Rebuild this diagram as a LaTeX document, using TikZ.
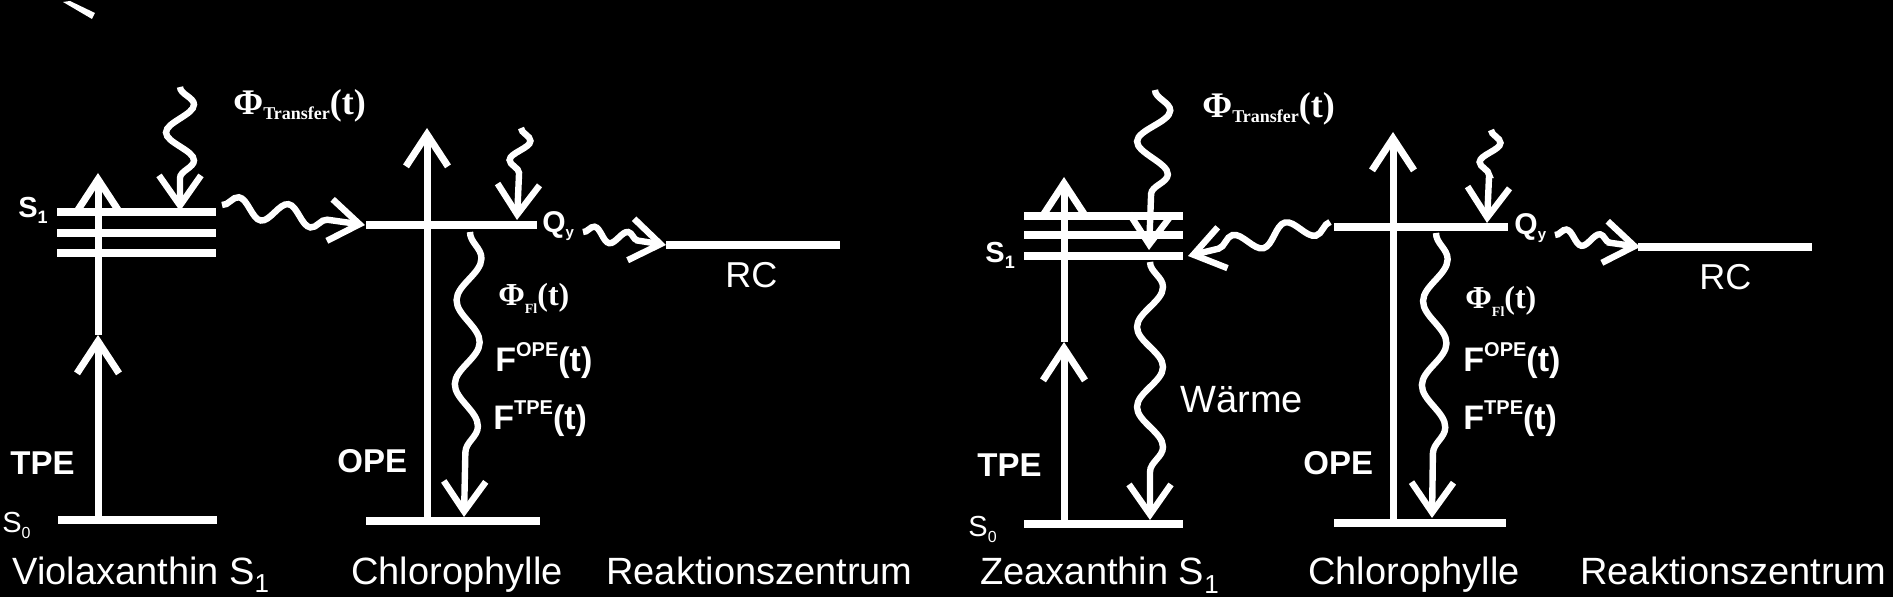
\documentclass[tikz,border=0pt]{standalone}
\usepackage{fontspec}
\setmainfont{Liberation Sans}
\newfontfamily\phifont{Liberation Serif}
\usetikzlibrary{arrows.meta,decorations.pathmorphing}
\begin{document}
\begin{tikzpicture}[x=0.5pt,y=-0.5pt,
  level/.style={white,line width=4pt},
  excite/.style={white,line width=3.5pt,-{Straight Barb[length=16pt,width=21pt]}},
  wavy/.style n args={3}{white,line width=3.2pt,-{Straight Barb[length=15pt,width=21pt]},
     decorate,decoration={snake,amplitude=#1,segment length=#2,post length=#3}},
  lbl/.style={text=white,inner sep=0pt,anchor=base west},
  big/.style={lbl,font=\fontsize{19}{22}\selectfont},
  bld/.style={lbl,font=\bfseries\fontsize{16.5}{18}\selectfont},
  sml/.style={lbl,font=\fontsize{14.5}{16}\selectfont}]
\fill[black] (0,0) rectangle (1893,597);
\useasboundingbox (0,0) rectangle (1893,597);
\newcommand{\sbt}[3]{\raisebox{#1}{\fontsize{#2}{#2}\selectfont #3}}
% artifact
\fill[white] (63,2) -- (70,1) -- (95,13) -- (92,19) -- cycle;

% ===== left panel =====
\coordinate (L1a) at (57,212); \coordinate (L1b) at (216,212);
\coordinate (L2a) at (57,233); \coordinate (L2b) at (216,233);
\coordinate (L3a) at (57,253); \coordinate (L3b) at (216,253);
\coordinate (L0a) at (58,520); \coordinate (L0b) at (217,520);
\coordinate (LtpeB) at (98,520); \coordinate (LtpeM) at (98,335); \coordinate (LtpeT) at (98,173);
\coordinate (LphS) at (180,87); \coordinate (LphE) at (180,211);
\coordinate (LtrS) at (222,205); \coordinate (LtrE) at (365,225);
\coordinate (LQa) at (366,225); \coordinate (LQb) at (537,225);
\coordinate (LCa) at (366,521); \coordinate (LCb) at (540,521);
\coordinate (LopeB) at (427,521); \coordinate (LopeT) at (427,128);
\coordinate (LqS) at (521,128); \coordinate (LqE) at (517,220);
\coordinate (LrS) at (583,232); \coordinate (LrE) at (666,245);
\coordinate (LRa) at (666,245); \coordinate (LRb) at (840,245);
\coordinate (LflS) at (470,232); \coordinate (LflE) at (464,517);

\draw[level] (L1a) -- (L1b); \draw[level] (L2a) -- (L2b); \draw[level] (L3a) -- (L3b);
\draw[level] (L0a) -- (L0b);
\draw[excite] (LtpeB) -- (LtpeM); \draw[excite] (LtpeM) -- (LtpeT);
\draw[wavy={7pt}{28pt}{15pt}] (LphS) -- (LphE);
\draw[wavy={5pt}{25pt}{14pt}] (LtrS) -- (LtrE);
\draw[wavy={5pt}{20pt}{15pt}] (LqS) -- (LqE);
\draw[level] (LQa) -- (LQb); \draw[level] (LCa) -- (LCb);
\draw[excite] (LopeB) -- (LopeT);
\draw[wavy={3.5pt}{17pt}{12pt}] (LrS) -- (LrE);
\draw[level] (LRa) -- (LRb);
\draw[wavy={6pt}{42pt}{15pt}] (LflS) -- (LflE);

\node[lbl,font=\bfseries\fontsize{14.5}{16}\selectfont] (sOneL) at (18,218) {S\sbt{-3pt}{9}{1}};
\node[sml] (sZeroL) at (2,533) {S\sbt{-3pt}{8}{0}};
\node[bld] (tpeL) at (10,475) {TPE};
\node[big] (violaL) at (12,584) {Violaxanthin S\sbt{-4.5pt}{13}{1}};
\node[lbl,font=\phifont\bfseries\fontsize{18}{20}\selectfont] (phiTL) at (233,115) {Φ\sbt{-2.5pt}{9}{Transfer}(t)};
\node[lbl,font=\bfseries\fontsize{15}{16}\selectfont] (qyL) at (542,233) {Q\sbt{-2.5pt}{7.5}{y}};
\node[lbl,font=\fontsize{18}{20}\selectfont] (rcL) at (725,288) {RC};
\node[lbl,font=\phifont\bfseries\fontsize{16}{18}\selectfont] (phiFlL) at (498,306) {Φ\sbt{-4pt}{7}{Fl}(t)};
\node[lbl,font=\bfseries\fontsize{17}{18}\selectfont] (fopeL) at (495,372) {F\sbt{7.5pt}{10}{OPE}(t)};
\node[lbl,font=\bfseries\fontsize{17}{18}\selectfont] (ftpeL) at (493,430) {F\sbt{7.5pt}{10}{TPE}(t)};
\node[bld] (opeL) at (337,473) {OPE};
\node[big] (chloL) at (351,584) {Chlorophylle};
\node[big] (reakL) at (606,584) {Reaktionszentrum};

% ===== right panel =====
\coordinate (R1a) at (1024,216); \coordinate (R1b) at (1183,216);
\coordinate (R2a) at (1024,235); \coordinate (R2b) at (1183,235);
\coordinate (R3a) at (1024,256); \coordinate (R3b) at (1183,256);
\coordinate (R0a) at (1024,524); \coordinate (R0b) at (1183,524);
\coordinate (RtpeB) at (1064,524); \coordinate (RtpeM) at (1064,342); \coordinate (RtpeT) at (1064,177);
\coordinate (RphS) at (1155,90); \coordinate (RphE) at (1149,250);
\coordinate (RwS) at (1150,262); \coordinate (RwE) at (1150,520);
\coordinate (RtrS) at (1330,222); \coordinate (RtrE) at (1188,256);
\coordinate (RQa) at (1334,227); \coordinate (RQb) at (1508,227);
\coordinate (RCa) at (1334,523); \coordinate (RCb) at (1506,523);
\coordinate (RopeB) at (1393,523); \coordinate (RopeT) at (1393,132);
\coordinate (RqS) at (1491,130); \coordinate (RqE) at (1487,223);
\coordinate (RrS) at (1555,235); \coordinate (RrE) at (1640,247);
\coordinate (RRa) at (1638,247); \coordinate (RRb) at (1812,247);
\coordinate (RflS) at (1436,233); \coordinate (RflE) at (1432,518);

\draw[level] (R1a) -- (R1b); \draw[level] (R2a) -- (R2b); \draw[level] (R3a) -- (R3b);
\draw[level] (R0a) -- (R0b);
\draw[excite] (RtpeB) -- (RtpeM); \draw[excite] (RtpeM) -- (RtpeT);
\draw[wavy={8pt}{32pt}{15pt}] (RphS) -- (RphE);
\draw[wavy={6.5pt}{40pt}{15pt}] (RwS) -- (RwE);
\draw[wavy={5pt}{27pt}{14pt}] (RtrS) -- (RtrE);
\draw[level] (RQa) -- (RQb); \draw[level] (RCa) -- (RCb);
\draw[excite] (RopeB) -- (RopeT);
\draw[wavy={5pt}{20pt}{15pt}] (RqS) -- (RqE);
\draw[wavy={3.5pt}{17pt}{12pt}] (RrS) -- (RrE);
\draw[level] (RRa) -- (RRb);
\draw[wavy={6pt}{42pt}{15pt}] (RflS) -- (RflE);

\node[lbl,font=\bfseries\fontsize{14.5}{16}\selectfont] (sOneR) at (985,263) {S\sbt{-3pt}{9}{1}};
\node[sml] (sZeroR) at (968,537) {S\sbt{-3pt}{8}{0}};
\node[bld] (tpeR) at (977,477) {TPE};
\node[big] (zeaR) at (980,585) {Zeaxanthin S\sbt{-4.5pt}{13}{1}};
\node[lbl,font=\phifont\bfseries\fontsize{18}{20}\selectfont] (phiTR) at (1202,118) {Φ\sbt{-2.5pt}{9}{Transfer}(t)};
\node[lbl,font=\fontsize{19}{22}\selectfont] (waermeR) at (1180,413) {Wärme};
\node[lbl,font=\bfseries\fontsize{15}{16}\selectfont] (qyR) at (1514,235) {Q\sbt{-2.5pt}{7.5}{y}};
\node[lbl,font=\fontsize{18}{20}\selectfont] (rcR) at (1699,290) {RC};
\node[lbl,font=\phifont\bfseries\fontsize{16}{18}\selectfont] (phiFlR) at (1465,309) {Φ\sbt{-4pt}{7}{Fl}(t)};
\node[lbl,font=\bfseries\fontsize{17}{18}\selectfont] (fopeR) at (1463,372) {F\sbt{7.5pt}{10}{OPE}(t)};
\node[lbl,font=\bfseries\fontsize{17}{18}\selectfont] (ftpeR) at (1463,430) {F\sbt{7.5pt}{10}{TPE}(t)};
\node[bld] (opeR) at (1303,475) {OPE};
\node[big] (chloR) at (1308,585) {Chlorophylle};
\node[big] (reakR) at (1580,585) {Reaktionszentrum};
\end{tikzpicture}
\end{document}
